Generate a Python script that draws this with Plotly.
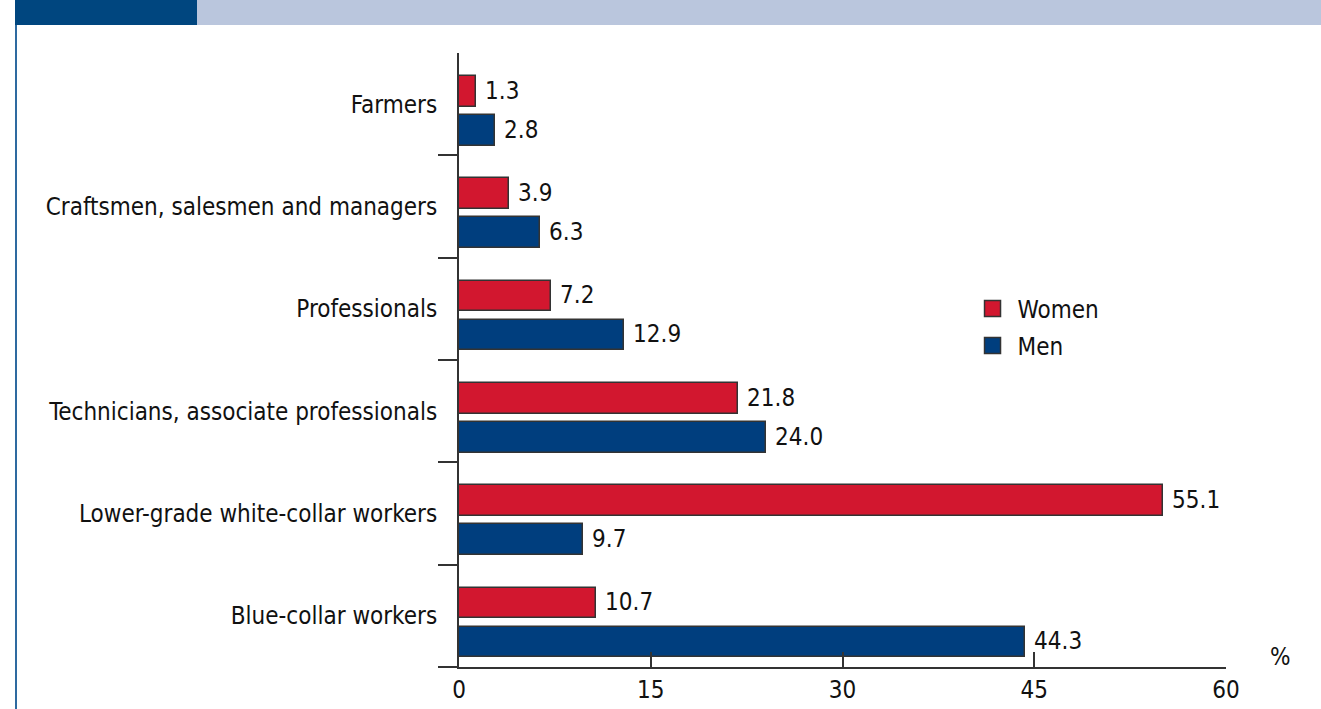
import plotly.graph_objects as go

categories = ["Farmers", "Craftsmen, salesmen and managers", "Professionals",
              "Technicians, associate professionals", "Lower-grade white-collar workers",
              "Blue-collar workers"]
women = [1.3, 3.9, 7.2, 21.8, 55.1, 10.7]
men = [2.8, 6.3, 12.9, 24.0, 9.7, 44.3]
x_ticks = [0, 15, 30, 45, 60]

FONT = "DejaVu Sans Condensed, Liberation Sans Narrow, sans-serif"
FS = 24
RED = "#D2172F"
BLUE = "#003E7E"
EDGE = "#333333"

pos = list(range(len(categories)))

fig = go.Figure()
fig.add_trace(go.Bar(
    y=pos, x=women, orientation="h", name="Women", showlegend=False,
    marker=dict(color=RED, line=dict(color=EDGE, width=1.5)),
    width=0.30, offset=-0.275,
    text=[f"\u00a0{v:.1f}" for v in women], textposition="outside",
    textfont=dict(family=FONT, size=FS, color="#111"), cliponaxis=False,
))
fig.add_trace(go.Bar(
    y=pos, x=men, orientation="h", name="Men", showlegend=False,
    marker=dict(color=BLUE, line=dict(color=EDGE, width=1.5)),
    width=0.30, offset=0.105,
    text=[f"\u00a0{v:.1f}" for v in men], textposition="outside",
    textfont=dict(family=FONT, size=FS, color="#111"), cliponaxis=False,
))
# legend entries
for nm, col in (("Women", RED), ("Men", BLUE)):
    fig.add_trace(go.Scatter(
        x=[None], y=[None], mode="markers", name=nm, legendgroup=nm,
        marker=dict(symbol="square", size=20, color=col, line=dict(color=EDGE, width=1.5)),
    ))

W, H = 1321, 709
pl, pr, pt, pb = 459, 95, 53, 42

fig.update_layout(
    width=W, height=H,
    margin=dict(l=pl, r=pr, t=pt, b=pb, autoexpand=False),
    paper_bgcolor="white", plot_bgcolor="white",
    font=dict(family=FONT, size=FS, color="#111"),
    bargap=0, barmode="overlay",
    legend=dict(x=0.663, y=0.62, xanchor="left", yanchor="top",
                font=dict(family=FONT, size=FS, color="#111"),
                bgcolor="rgba(0,0,0,0)", itemsizing="trace", itemwidth=40,
                tracegroupgap=3),
    xaxis=dict(range=[0, 60], tickvals=x_ticks, ticktext=[str(v) for v in x_ticks],
               automargin=False,
               ticks="inside", ticklen=15, tickwidth=2, tickcolor=EDGE,
               showline=True, linecolor=EDGE, linewidth=2, showgrid=False, zeroline=False,
               tickfont=dict(family=FONT, size=FS, color="#111")),
    yaxis=dict(range=[5.5, -0.5], tickvals=pos, ticktext=categories, ticks="",
               automargin=False, ticklabelstandoff=15,
               showline=True, linecolor=EDGE, linewidth=2, showgrid=False, zeroline=False,
               tickfont=dict(family=FONT, size=FS, color="#111"),
               minor=dict(tickvals=[0.5, 1.5, 2.5, 3.5, 4.5, 5.5], ticks="outside",
                          ticklen=19, tickwidth=2, tickcolor=EDGE, showgrid=False)),
)

# decorative banner and frame line (pixel-placed in paper coords of full figure)
pw, ph = W - pl - pr, H - pt - pb
def px(x):
    return (x - pl) / pw
def py(y):
    return (H - pb - y) / ph
fig.add_shape(type="rect", xref="paper", yref="paper", x0=px(15), x1=px(197), y0=py(25), y1=py(0),
              fillcolor="#00467F", line=dict(width=0), layer="above")
fig.add_shape(type="rect", xref="paper", yref="paper", x0=px(197), x1=px(1321), y0=py(25), y1=py(0),
              fillcolor="#BAC6DD", line=dict(width=0), layer="above")
fig.add_shape(type="line", xref="paper", yref="paper", x0=px(16), x1=px(16), y0=py(25), y1=py(709),
              line=dict(color="#2E6AA0", width=2))
fig.add_annotation(text="%", xref="paper", yref="paper", x=px(1280), y=py(657),
                   xanchor="center", yanchor="middle",
                   showarrow=False, font=dict(family=FONT, size=FS, color="#111"))

fig.write_html("out.html", config={"displayModeBar": False},
               post_script="document.documentElement.style.margin='0';"
                           "document.body.style.margin='0';document.body.style.padding='0';"
                           "document.body.style.background='white';"
                           "document.documentElement.style.background='white';"
                           "var d=document.querySelector('.plotly-graph-div');"
                           "if(d&&d.parentElement){d.parentElement.style.height='709px';"
                           "d.parentElement.style.overflow='hidden';}"
                           "document.body.style.overflow='hidden';"
                           "document.documentElement.style.overflow='hidden';")
